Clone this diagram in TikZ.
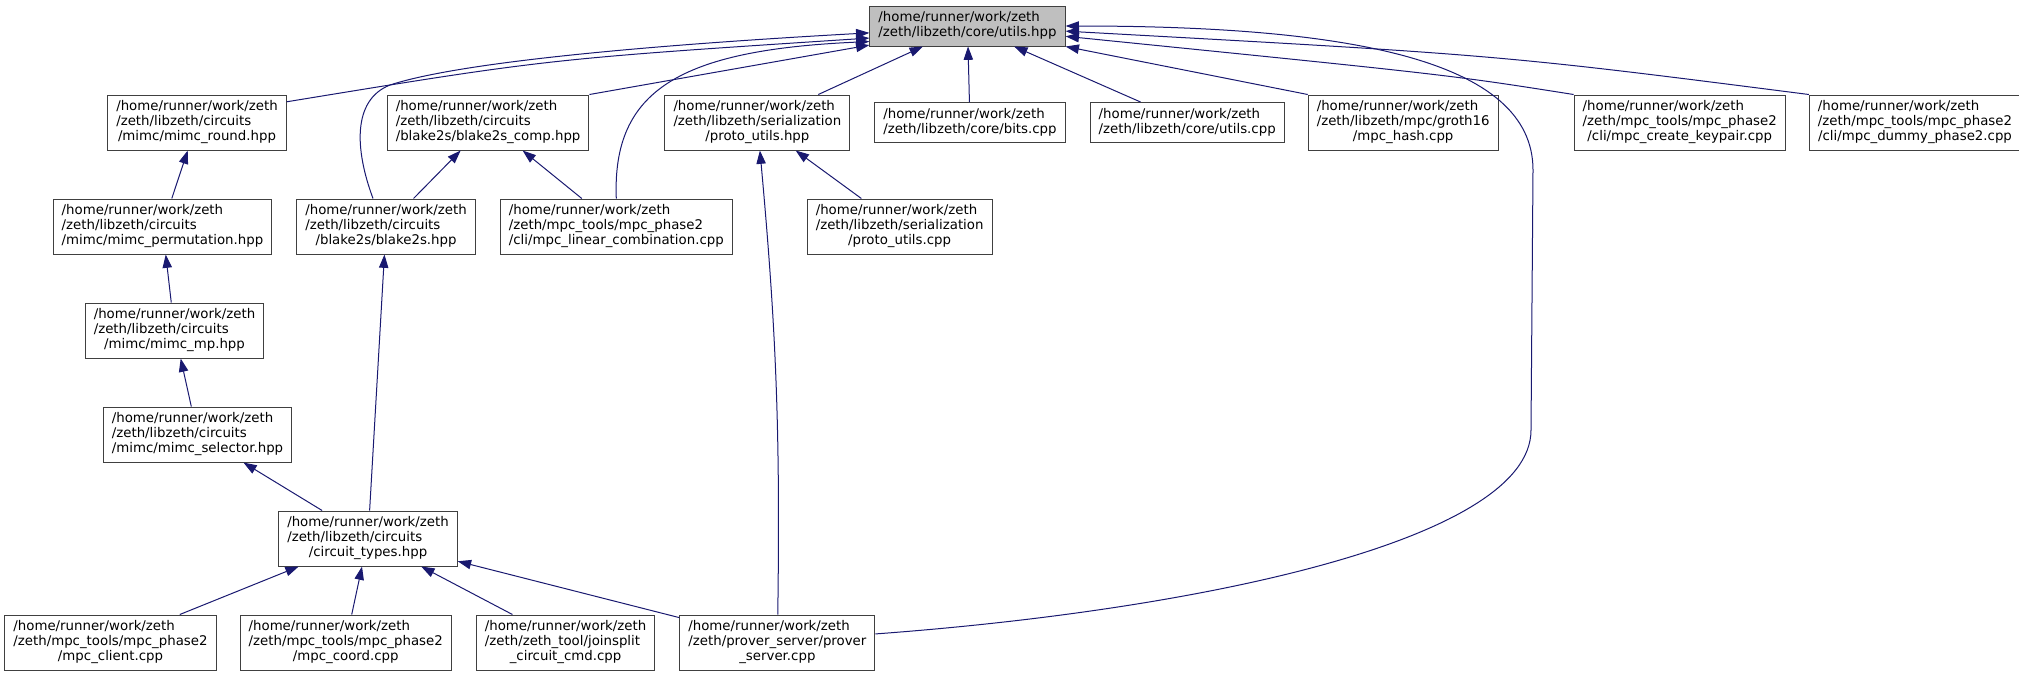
\documentclass[tikz,border=0pt]{standalone}
\usepackage{fontspec}
\setmainfont{DejaVu Sans}
\usetikzlibrary{arrows.meta,positioning}

\definecolor{edgeblue}{HTML}{191970}
\definecolor{boxline}{HTML}{404040}
\definecolor{rootfill}{HTML}{BFBFBF}

\newcommand{\flabel}[2]{\begin{tabular}{@{}l@{}}#1\\\multicolumn{1}{@{}c@{}}{#2}\end{tabular}}

\begin{document}
\begin{tikzpicture}[
  x=0.75pt, y=-0.75pt,
  filebox/.style={draw=boxline, line width=0.75pt, fill=white, inner xsep=6.4pt, inner ysep=3.75pt, font=\fontsize{10}{11.25}\selectfont},
  rootbox/.style={filebox, fill=rootfill},
  inc/.style={draw=edgeblue, line width=0.75pt, -{Triangle[length=10pt,width=7pt]}}
]
\useasboundingbox (0,0) rectangle (2019,676);

\node[rootbox] (utils_hpp) at (967.5,26) {\flabel{/home/runner/work/zeth}{/zeth/libzeth/core/utils.hpp}};

\node[filebox] (mimc_round) at (197,122.5) {\flabel{/home/runner/work/zeth\\/zeth/libzeth/circuits}{/mimc/mimc\_round.hpp}};
\node[filebox, right=75pt of mimc_round] (blake2s_comp) {\flabel{/home/runner/work/zeth\\/zeth/libzeth/circuits}{/blake2s/blake2s\_comp.hpp}};
\node[filebox, right=56.25pt of blake2s_comp] (proto_hpp) {\flabel{/home/runner/work/zeth\\/zeth/libzeth/serialization}{/proto\_utils.hpp}};
\node[filebox, right=18pt of proto_hpp] (bits_cpp) {\flabel{/home/runner/work/zeth}{/zeth/libzeth/core/bits.cpp}};
\node[filebox, right=18pt of bits_cpp] (utils_cpp) {\flabel{/home/runner/work/zeth}{/zeth/libzeth/core/utils.cpp}};
\node[filebox, right=17.25pt of utils_cpp] (mpc_hash) {\flabel{/home/runner/work/zeth\\/zeth/libzeth/mpc/groth16}{/mpc\_hash.cpp}};
\node[filebox, right=56.25pt of mpc_hash] (create_keypair) {\flabel{/home/runner/work/zeth\\/zeth/mpc\_tools/mpc\_phase2}{/cli/mpc\_create\_keypair.cpp}};
\node[filebox, right=17.25pt of create_keypair] (dummy_phase2) {\flabel{/home/runner/work/zeth\\/zeth/mpc\_tools/mpc\_phase2}{/cli/mpc\_dummy\_phase2.cpp}};

\node[filebox] (mimc_perm) at (162.5,226.5) {\flabel{/home/runner/work/zeth\\/zeth/libzeth/circuits}{/mimc/mimc\_permutation.hpp}};
\node[filebox, right=18pt of mimc_perm] (blake2s_hpp) {\flabel{/home/runner/work/zeth\\/zeth/libzeth/circuits}{/blake2s/blake2s.hpp}};
\node[filebox, right=18pt of blake2s_hpp] (linear_comb) {\flabel{/home/runner/work/zeth\\/zeth/mpc\_tools/mpc\_phase2}{/cli/mpc\_linear\_combination.cpp}};
\node[filebox, right=55.5pt of linear_comb] (proto_cpp) {\flabel{/home/runner/work/zeth\\/zeth/libzeth/serialization}{/proto\_utils.cpp}};

\node[filebox] (mimc_mp) at (174.5,330.5) {\flabel{/home/runner/work/zeth\\/zeth/libzeth/circuits}{/mimc/mimc\_mp.hpp}};
\node[filebox] (mimc_selector) at (197.5,434.5) {\flabel{/home/runner/work/zeth\\/zeth/libzeth/circuits}{/mimc/mimc\_selector.hpp}};
\node[filebox] (circuit_types) at (368,538.5) {\flabel{/home/runner/work/zeth\\/zeth/libzeth/circuits}{/circuit\_types.hpp}};

\node[filebox] (mpc_client) at (110.5,642.5) {\flabel{/home/runner/work/zeth\\/zeth/mpc\_tools/mpc\_phase2}{/mpc\_client.cpp}};
\node[filebox, right=17.25pt of mpc_client] (mpc_coord) {\flabel{/home/runner/work/zeth\\/zeth/mpc\_tools/mpc\_phase2}{/mpc\_coord.cpp}};
\node[filebox, right=18pt of mpc_coord] (joinsplit_cmd) {\flabel{/home/runner/work/zeth\\/zeth/zeth\_tool/joinsplit}{\_circuit\_cmd.cpp}};
\node[filebox, right=18pt of joinsplit_cmd] (prover_server) {\flabel{/home/runner/work/zeth\\/zeth/prover\_server/prover}{\_server.cpp}};

\draw[inc] (mimc_round.13) .. controls (548,59) .. (utils_hpp.187);
\draw[inc] (blake2s_comp.north east) -- (utils_hpp.191);
\draw[inc] (blake2s_hpp.115) .. controls (355,150) and (352,100) .. (390,85) .. controls (460,62) and (650,45) .. (utils_hpp.184);
\draw[inc] (linear_comb.north) .. controls (612,90) and (680,50) .. (utils_hpp.189);
\draw[inc] (proto_hpp) -- (utils_hpp);
\draw[inc] (bits_cpp) -- (utils_hpp);
\draw[inc] (utils_cpp) -- (utils_hpp);
\draw[inc] (mpc_hash.north west) -- (utils_hpp.south east);
\draw[inc] (create_keypair.north west) .. controls (1450,75) .. (utils_hpp.354);
\draw[inc] (dummy_phase2.north west) .. controls (1500,55) .. (utils_hpp.357);
\draw[inc] (prover_server.5) .. controls (1200,610) and (1531,540) .. (1531,430) -- (1533,170) .. controls (1533,60) and (1350,26) .. (utils_hpp.east);

\draw[inc] (mimc_perm) -- (mimc_round);
\draw[inc] (mimc_mp) -- (mimc_perm);
\draw[inc] (mimc_selector) -- (mimc_mp);
\draw[inc] (circuit_types) -- (mimc_selector);
\draw[inc] (blake2s_hpp) -- (blake2s_comp);
\draw[inc] (linear_comb) -- (blake2s_comp);
\draw[inc] (circuit_types) -- (blake2s_hpp);
\draw[inc] (proto_cpp) -- (proto_hpp);
\draw[inc] (prover_server) to[bend right=3] (proto_hpp);

\draw[inc] (mpc_client) -- (circuit_types);
\draw[inc] (mpc_coord) -- (circuit_types);
\draw[inc] (joinsplit_cmd) -- (circuit_types);
\draw[inc] (prover_server) -- (circuit_types);

\end{tikzpicture}
\end{document}
